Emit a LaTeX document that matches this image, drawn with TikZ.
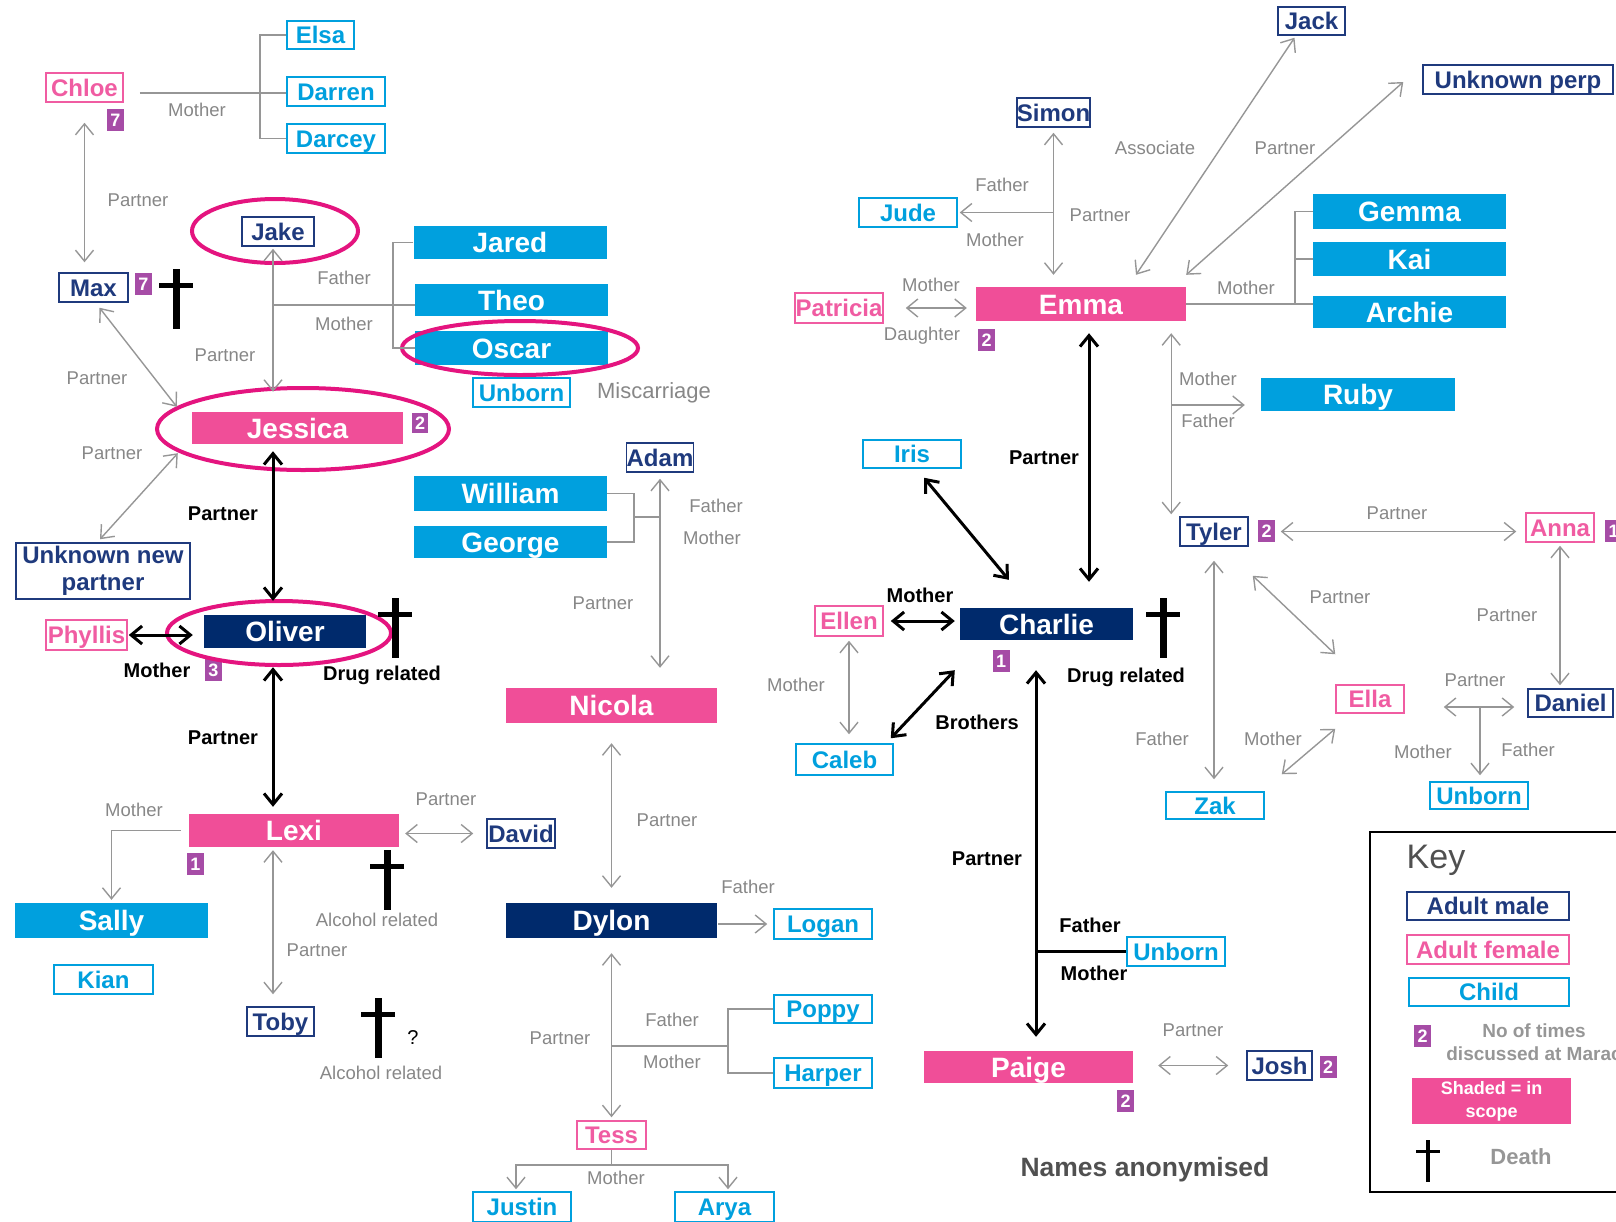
\documentclass[tikz,border=0pt]{standalone}
\usepackage{fontspec}
\setmainfont{Liberation Sans}
\usepackage{xcolor}
\definecolor{famNavy}{RGB}{0,42,108}
\definecolor{famMale}{RGB}{31,58,125}
\definecolor{famPink}{RGB}{240,78,152}
\definecolor{famPinkText}{RGB}{240,92,162}
\definecolor{famCyan}{RGB}{0,160,222}
\definecolor{famBadge}{RGB}{166,76,166}
\definecolor{famRing}{RGB}{228,20,127}
\definecolor{famGray}{RGB}{150,150,150}
\definecolor{famLabel}{RGB}{135,135,135}
\definecolor{famDark}{RGB}{80,80,80}
\usepackage{tikz}
\usetikzlibrary{arrows.meta, positioning, calc}

\newcommand{\nameFont}{\fontsize{24pt}{27pt}\selectfont\bfseries}
\newcommand{\bigNameFont}{\fontsize{28pt}{30pt}\selectfont\bfseries}
\newcommand{\badgeFont}{\fontsize{18pt}{20pt}\selectfont\bfseries}
\newcommand{\labelFont}{\fontsize{18.5pt}{20pt}\selectfont}
\newcommand{\bondFont}{\fontsize{20pt}{22pt}\selectfont\bfseries}

\begin{document}
\begin{tikzpicture}[
    x=1pt, y=-1pt,
    box/.style={
        rectangle, inner sep=0pt, line width=1.5pt,
        minimum height=29pt, font=\nameFont, align=center
    },
    maleFrame/.style={box, draw=famMale, text=famMale, fill=white},
    maleBox/.style={maleFrame, text height=17pt, text depth=0pt},
    femaleBox/.style={
        box, draw=famPinkText, text=famPinkText, fill=white,
        text height=17pt, text depth=0pt
    },
    childBox/.style={
        box, draw=famCyan, text=famCyan, fill=white,
        text height=17pt, text depth=0pt
    },
    scopeBox/.style={
        rectangle, inner sep=0pt, minimum width=193pt, minimum height=34pt,
        font=\bigNameFont, text=white, text height=20pt, text depth=0pt
    },
    scopeKid/.style={scopeBox, fill=famCyan},
    scopeFemale/.style={scopeBox, fill=famPink},
    scopeMale/.style={scopeBox, fill=famNavy},
    badge/.style={
        rectangle, inner sep=0pt, fill=famBadge, text=white,
        minimum width=17pt, minimum height=22pt, font=\badgeFont,
        text height=13pt, text depth=0pt
    },
    relLabel/.style={
        font=\labelFont, text=famLabel, inner sep=0pt,
        text height=13pt, text depth=0pt
    },
    bondLabel/.style={
        font=\bondFont, text=black, inner sep=0pt,
        text height=14pt, text depth=0pt
    },
    kinLine/.style={draw=famGray, line width=1.4pt},
    kinArrow/.style={
        {Straight Barb[length=11pt,width=18pt]}-{Straight Barb[length=11pt,width=18pt]},
        draw=famGray, line width=1.4pt
    },
    kinArrowOne/.style={
        -{Straight Barb[length=11pt,width=18pt]}, draw=famGray, line width=1.4pt
    },
    bondArrow/.style={
        {Straight Barb[length=11pt,width=18pt]}-{Straight Barb[length=11pt,width=18pt]},
        draw=black, line width=3pt
    },
    bondLine/.style={draw=black, line width=3pt},
    ring/.style={draw=famRing, line width=4pt},
    deathCross/.pic={
        \fill (-3.5,0) rectangle (3.5,60);
        \fill (-17,14) rectangle (17,19);
    }
]
    \useasboundingbox (0,0) rectangle (1616,1221);
    \clip (0,0) rectangle (1616,1221);

    % Left family
    \node[femaleBox, minimum width=77pt] (chloe) at (84.5,87.5) {Chloe};
    \node[badge] (chloeNo) at (115.5,119.5) {7};
    \node[childBox, minimum width=67pt, minimum height=28pt] (elsa) at (320.5,35) {Elsa};
    \node[childBox, minimum width=98pt] (darren) at (336,91.5) {Darren};
    \node[childBox, minimum width=98pt] (darcey) at (336,138.5) {Darcey};
    \node[maleBox, minimum width=69pt] (max) at (93.5,287.5) {Max};
    \node[badge] (maxNo) at (143.5,284) {7};
    \node[maleBox, minimum width=72pt] (jake) at (278,231.5) {Jake};
    \node[scopeKid, minimum height=33pt] (jared) at (510,242.5) {Jared};
    \node[scopeKid, minimum height=32pt] (theo) at (511.5,300) {Theo};
    \node[scopeKid] (oscar) at (511.5,348) {Oscar};
    \node[childBox, minimum width=97pt] (unbornOscar) at (521.5,392.5) {Unborn};
    \node[font=\fontsize{22pt}{24pt}\selectfont, text=famLabel] (miscarriage) at (654,393) {Miscarriage};
    \node[scopeFemale, minimum width=211pt, minimum height=32pt] (jessica) at (297.5,428) {Jessica};
    \node[badge, minimum width=16pt, minimum height=20pt] (jessicaNo) at (420,423) {2};
    \node[maleFrame, minimum width=174pt, minimum height=56pt] (unknownNew) at (103,571) {Unknown new\\partner};
    \node[femaleBox, minimum width=81pt, minimum height=30pt] (phyllis) at (86.5,635) {Phyllis};
    \node[scopeMale, minimum width=162pt, minimum height=33pt] (oliver) at (285,631.5) {Oliver};
    \node[badge] (oliverNo) at (213.5,669.5) {3};
    \node[scopeFemale, minimum width=210pt, minimum height=33pt] (lexi) at (294,830.5) {Lexi};
    \node[badge] (lexiNo) at (195.5,864) {1};
    \node[scopeKid, minimum height=35pt] (sally) at (111.5,920.5) {Sally};
    \node[childBox, minimum width=99pt] (kian) at (103.5,979.5) {Kian};
    \node[maleBox, minimum width=67pt] (toby) at (280.5,1021.5) {Toby};
    \node[maleBox, minimum width=68pt] (david) at (521,833.5) {David};

    % Middle family
    \node[maleBox, minimum width=66pt] (adam) at (660,457.5) {Adam};
    \node[scopeKid, minimum height=35pt] (william) at (510.5,493.5) {William};
    \node[scopeKid, minimum height=32pt] (george) at (510.5,542) {George};
    \node[scopeFemale, minimum width=211pt, minimum height=35pt] (nicola) at (611.5,705.5) {Nicola};
    \node[scopeMale, minimum width=211pt, minimum height=35pt] (dylon) at (611.5,920.5) {Dylon};
    \node[childBox, minimum width=98pt, minimum height=30pt] (logan) at (823,924) {Logan};
    \node[childBox, minimum width=98pt, minimum height=28pt] (poppy) at (823,1009) {Poppy};
    \node[childBox, minimum width=98pt, minimum height=30pt] (harper) at (823,1073) {Harper};
    \node[femaleBox, minimum width=69pt, minimum height=28pt] (tess) at (611.5,1135) {Tess};
    \node[childBox, minimum width=98pt, minimum height=30pt] (justin) at (522,1207) {Justin};
    \node[childBox, minimum width=99pt, minimum height=30pt] (arya) at (724.5,1207) {Arya};

    % Right family
    \node[maleBox, minimum width=67pt, minimum height=28pt] (jack) at (1311.5,21) {Jack};
    \node[maleBox, minimum width=190pt] (unknownPerp) at (1518,79.5) {Unknown perp};
    \node[maleBox, minimum width=73pt] (simon) at (1053.5,112.5) {Simon};
    \node[childBox, minimum width=98pt] (jude) at (908,212.5) {Jude};
    \node[femaleBox, minimum width=88pt, minimum height=30pt] (patricia) at (839,308) {Patricia};
    \node[scopeFemale, minimum width=210pt] (emma) at (1081,304) {Emma};
    \node[badge] (emmaNo) at (986.5,340) {2};
    \node[scopeKid, minimum height=35pt] (gemma) at (1409.5,211.5) {Gemma};
    \node[scopeKid] (kai) at (1409.5,259) {Kai};
    \node[scopeKid, minimum height=32pt] (archie) at (1409.5,312) {Archie};
    \node[scopeKid, minimum width=194pt, minimum height=33pt] (ruby) at (1358,394.5) {Ruby};
    \node[childBox, minimum width=98pt, minimum height=28pt] (iris) at (912,454) {Iris};
    \node[femaleBox, minimum width=68pt, minimum height=30pt] (ellen) at (849,621) {Ellen};
    \node[scopeMale, minimum width=173pt, minimum height=32pt] (charlie) at (1046.5,624) {Charlie};
    \node[badge] (charlieNo) at (1001,661) {1};
    \node[childBox, minimum width=97pt, minimum height=31pt] (caleb) at (844.5,759.5) {Caleb};
    \node[childBox, minimum width=98pt] (unbornCharlie) at (1176,951.5) {Unborn};
    \node[scopeFemale, minimum width=209pt, minimum height=32pt] (paige) at (1028.5,1067) {Paige};
    \node[badge] (paigeNo) at (1125.5,1100.5) {2};
    \node[maleBox, minimum width=65pt] (josh) at (1279.5,1065.5) {Josh};
    \node[badge] (joshNo) at (1328,1066.5) {2};
    \node[maleBox, minimum width=68pt] (tyler) at (1214,531.5) {Tyler};
    \node[badge] (tylerNo) at (1266.5,531) {2};
    \node[femaleBox, minimum width=68pt] (anna) at (1560,527.5) {Anna};
    \node[badge] (annaNo) at (1613.5,531) {1};
    \node[femaleBox, minimum width=68pt, minimum height=28pt] (ella) at (1370,699) {Ella};
    \node[maleBox, minimum width=85pt, minimum height=28pt] (daniel) at (1570.5,703) {Daniel};
    \node[childBox, minimum width=98pt, minimum height=27pt] (zak) at (1215,805.5) {Zak};
    \node[childBox, minimum width=98pt, minimum height=27pt] (unbornDaniel) at (1479,795.5) {Unborn};

    % In-scope rings
    \draw[ring] (275,231) ellipse [x radius=83pt, y radius=32pt];
    \draw[ring] (520,348) ellipse [x radius=118pt, y radius=27pt];
    \draw[ring] (303,429) ellipse [x radius=146pt, y radius=41pt];
    \draw[ring] (279,633) ellipse [x radius=112pt, y radius=32pt];

    % Deaths
    \pic at (176,269) {deathCross};
    \pic at (395,598) {deathCross};
    \pic at (387,850) {deathCross};
    \pic at (378,998) {deathCross};
    \pic at (1163,598) {deathCross};

    % Helper coordinates
    \coordinate (spineL) at (273,0);
    \coordinate (chloeFork) at (260,93);
    \coordinate (jakeKids) at (393,305);
    \coordinate (twinsFork) at (634,517);
    \coordinate (dylonKids) at (728,1046);
    \coordinate (tessFork) at (611.5,1165);
    \coordinate (emmaKids) at (1295,304);
    \coordinate (emmaAxis) at ([xshift=8pt]emma.south);
    \coordinate (tylerAxis) at ([xshift=-15pt]emma.south east);
    \coordinate (rubyFork) at (1171,405);
    \coordinate (charlieAxis) at ([xshift=-10.5pt]charlie.south);
    \coordinate (ellaDaniel) at (1480,707);

    % Connections, left
    \draw[kinLine, shorten <=16pt] (chloeFork -| chloe.east) -- (chloeFork -| darren.west);
    \draw[kinLine] (elsa.west) -| (chloeFork) |- (darcey.west);
    \draw[kinArrow, shorten <=20pt, shorten >=10pt] (chloe.south) -- (chloe.south |- max.north);
    \draw[kinArrow] ([xshift=6pt,yshift=-5pt]max.south) -- ([xshift=-15pt,yshift=5pt]jessica.north west);
    \draw[kinArrow] ([xshift=-3pt,yshift=3pt]unknownNew.north) -- ([xshift=-14pt,yshift=-9pt]jessica.south west);
    \draw[kinArrow, shorten <=2pt, shorten >=20pt] (spineL |- jake.south) -- (spineL |- jessica.north);
    \draw[kinLine] (spineL |- jakeKids) -- (jakeKids -| theo.west);
    \draw[kinLine] (jared.west) -| (jakeKids) |- (oscar.west);
    \draw[bondArrow, shorten <=7pt, shorten >=14pt] (spineL |- jessica.south) -- (spineL |- oliver.north);
    \draw[bondArrow, shorten <=1pt, shorten >=11pt] (phyllis.east) -- (phyllis.east -| oliver.west);
    \draw[bondArrow, shorten <=19pt, shorten >=7pt] (spineL |- oliver.south) -- (spineL |- lexi.north);
    \draw[kinArrowOne, shorten <=8pt, shorten >=3pt] (lexi.west) -| (sally.north);
    \draw[kinArrow, shorten <=3pt, shorten >=12pt] (spineL |- lexi.south) -- (spineL |- toby.north);
    \draw[kinArrow, shorten <=6pt, shorten >=13pt] (lexi.east |- david.west) -- (david.west);

    % Connections, middle
    \draw[kinArrow, shorten <=6pt, shorten >=20pt] (adam.south) -- (adam.south |- nicola.north);
    \draw[kinLine] (william.east) -| (twinsFork) |- (george.east);
    \draw[kinLine] (twinsFork) -- (twinsFork -| adam.south);
    \draw[kinArrow, shorten <=20pt, shorten >=15pt] (nicola.south) -- (dylon.north);
    \draw[kinArrowOne, shorten <=1pt, shorten >=6pt] (dylon.east |- logan.west) -- (logan.west);
    \draw[kinArrow, shorten <=15pt, shorten >=3pt] (dylon.south) -- (tess.north);
    \draw[kinLine] (dylon.south |- dylonKids) -- (dylonKids);
    \draw[kinLine] (poppy.west) -| (dylonKids) |- (harper.west);
    \draw[kinLine] (tess.south) -- (tessFork);
    \draw[kinArrowOne, shorten >=2pt] (tessFork) -| ([xshift=-6pt]justin.north);
    \draw[kinArrowOne, shorten >=2pt] (tessFork) -| ([xshift=3.5pt]arya.north);

    % Connections, right
    \draw[kinArrow, shorten <=5pt, shorten >=12pt] (simon.south) -- (simon.south |- emma.north);
    \draw[kinArrowOne, shorten >=2pt] (simon.south |- jude.east) -- (jude.east);
    \draw[kinArrow] ([xshift=-17pt,yshift=-2pt]jack.south) -- ([xshift=55pt,yshift=12pt]emma.north);
    \draw[kinArrow] ([xshift=-19pt,yshift=-2.5pt]unknownPerp.west) -- ([yshift=12pt]emma.north east);
    \draw[kinArrow, shorten <=22pt, shorten >=9pt] (patricia.east) -- (patricia.east -| emma.west);
    \draw[kinLine] (emma.east) -- (emma.east -| archie.west);
    \draw[kinLine] (gemma.west) -| (emmaKids);
    \draw[kinLine] (kai.west) -- (kai.west -| emmaKids);
    \draw[bondArrow, shorten <=12pt, shorten >=26pt] (emmaAxis) -- (emmaAxis |- charlie.north);
    \draw[kinArrow, shorten <=12pt, shorten >=2pt] (tylerAxis) -- (tylerAxis |- tyler.north);
    \draw[kinArrowOne, shorten >=16pt] (rubyFork) -- (rubyFork -| ruby.west);
    \draw[bondArrow] ([xshift=12pt,yshift=-9pt]iris.south) -- ([xshift=49pt,yshift=28pt]charlie.north west);
    \draw[bondArrow, shorten <=7pt, shorten >=5pt] (ellen.east) -- (ellen.east -| charlie.west);
    \draw[kinArrow, shorten <=4pt, shorten >=9pt] (ellen.south) -- (ellen.south |- caleb.north);
    \draw[bondArrow] ([xshift=-3pt,yshift=5pt]caleb.north east) -- ([xshift=-5pt,yshift=-30pt]charlie.south west);
    \draw[bondArrow, shorten <=30pt, shorten >=14pt] (charlieAxis) -- (charlieAxis |- paige.north);
    \draw[bondLine] (charlieAxis |- unbornCharlie.west) -- (unbornCharlie.west);
    \draw[kinArrow, shorten <=25pt, shorten >=18pt] (paige.east |- josh.west) -- (josh.west);
    \draw[kinArrow, shorten <=32pt, shorten >=9pt] (tyler.east) -- (tyler.east -| anna.west);
    \draw[kinArrow, shorten <=3pt, shorten >=3pt] (anna.south) -- (anna.south |- daniel.north);
    \draw[kinArrow] ([xshift=4pt,yshift=-29pt]tyler.south east) -- ([yshift=30pt]ella.north west);
    \draw[kinArrow, shorten <=14pt, shorten >=12pt] (tyler.south) -- (tyler.south |- zak.north);
    \draw[kinArrow] ([yshift=-15pt]ella.south west) -- ([xshift=17pt,yshift=17pt]zak.north east);
    \draw[kinArrow, shorten <=39pt, shorten >=13pt] (ella.east |- ellaDaniel) -- (daniel.west |- ellaDaniel);
    \draw[kinArrowOne, shorten >=6pt] (ellaDaniel) -- (ellaDaniel |- unbornDaniel.north);

    % Labels, left
    \node[relLabel] (lChloeKids) at (197,110) {Mother};
    \node[relLabel] (lChloeMax) at (138,200) {Partner};
    \node[relLabel] (lMaxJess) at (97,378) {Partner};
    \node[relLabel] (lNewJess) at (112,453) {Partner};
    \node[relLabel] (lJakeFather) at (344,278) {Father};
    \node[relLabel] (lJakeMother) at (344,324) {Mother};
    \node[relLabel] (lJakeJess) at (225,355) {Partner};
    \node[bondLabel] (lJessOliver) at (223,513) {Partner};
    \node[bondLabel] (lPhyllis) at (157,670) {Mother};
    \node[bondLabel] (lOliverDeath) at (382,673) {Drug related};
    \node[bondLabel] (lOliverLexi) at (223,737) {Partner};
    \node[relLabel] (lLexiSally) at (134,810) {Mother};
    \node[relLabel] (lLexiDavid) at (446,799) {Partner};
    \node[relLabel] (lLexiToby) at (317,950) {Partner};
    \node[relLabel] (lLexiDeath) at (377,920) {Alcohol related};
    \node[font=\fontsize{20pt}{22pt}\selectfont] (lTobyQuery) at (413,1037) {?};
    \node[relLabel] (lTobyDeath) at (381,1073) {Alcohol related};

    % Labels, middle
    \node[relLabel] (lAdamFather) at (716,506) {Father};
    \node[relLabel] (lAdamMother) at (712,538) {Mother};
    \node[relLabel] (lAdamNicola) at (603,603) {Partner};
    \node[relLabel] (lNicolaDylon) at (667,820) {Partner};
    \node[relLabel] (lDylonLogan) at (748,887) {Father};
    \node[relLabel] (lDylonTess) at (560,1038) {Partner};
    \node[relLabel] (lKidsFather) at (672,1020) {Father};
    \node[relLabel] (lKidsMother) at (672,1062) {Mother};
    \node[relLabel] (lTessKids) at (616,1178) {Mother};

    % Labels, right
    \node[relLabel] (lSimonFather) at (1002,185) {Father};
    \node[relLabel] (lSimonMother) at (995,240) {Mother};
    \node[relLabel] (lSimonEmma) at (1100,215) {Partner};
    \node[relLabel] (lJack) at (1155,148) {Associate};
    \node[relLabel] (lPerp) at (1285,148) {Partner};
    \node[relLabel] (lPatMother) at (931,285) {Mother};
    \node[relLabel] (lPatDaughter) at (922,334) {Daughter};
    \node[relLabel] (lEmmaKids) at (1246,288) {Mother};
    \node[bondLabel] (lEmmaCharlie) at (1044,457) {Partner};
    \node[relLabel] (lRubyMother) at (1208,379) {Mother};
    \node[relLabel] (lRubyFather) at (1208,421) {Father};
    \node[bondLabel] (lEllenCharlie) at (920,595) {Mother};
    \node[bondLabel] (lCharlieDeath) at (1126,675) {Drug related};
    \node[bondLabel] (lBrothers) at (977,722) {Brothers};
    \node[relLabel] (lEllenCaleb) at (796,685) {Mother};
    \node[bondLabel] (lCharliePaige) at (987,858) {Partner};
    \node[bondLabel] (lUnbornFather) at (1090,925) {Father};
    \node[bondLabel] (lUnbornMother) at (1094,973) {Mother};
    \node[relLabel] (lPaigeJosh) at (1193,1030) {Partner};
    \node[relLabel] (lTylerAnna) at (1397,513) {Partner};
    \node[relLabel] (lAnnaDaniel) at (1507,615) {Partner};
    \node[relLabel] (lTylerElla) at (1340,597) {Partner};
    \node[relLabel] (lTylerZak) at (1162,739) {Father};
    \node[relLabel] (lEllaZak) at (1273,739) {Mother};
    \node[relLabel] (lEllaDaniel) at (1475,680) {Partner};
    \node[relLabel] (lUnbornMother2) at (1423,752) {Mother};
    \node[relLabel] (lUnbornFather2) at (1528,750) {Father};

    \node[font=\fontsize{26.5pt}{28pt}\selectfont\bfseries, text=famDark] (anonNote) at (1145,1170) {Names anonymised};

    % Key
    \draw[line width=1.8pt] (1370,832) rectangle (1630,1192);
    \node[font=\fontsize{34pt}{36pt}\selectfont, text=famDark] (keyTitle) at (1436,860) {Key};
    \node[maleBox, minimum width=162pt, minimum height=28pt] (keyMale) at (1488,906) {Adult male};
    \node[femaleBox, minimum width=162pt] (keyFemale) at (1488,949.5) {Adult female};
    \node[childBox, minimum width=160pt, minimum height=28pt] (keyChild) at (1489,992) {Child};
    \node[badge] (keyNo) at (1422.5,1036) {2};
    \node[font=\fontsize{19pt}{23pt}\selectfont\bfseries, text=famGray, align=center] (keyTimes) at (1534,1042) {No of times\\discussed at Marac};
    \node[rectangle, inner sep=0pt, fill=famPink, text=white, align=center,
          minimum width=159pt, minimum height=46pt,
          font=\fontsize{18pt}{23pt}\selectfont\bfseries] (keyScope) at (1491.5,1101) {Shaded = in\\scope};
    \pic[scale=0.7] at (1428,1140) {deathCross};
    \node[font=\fontsize{22pt}{24pt}\selectfont\bfseries, text=famGray] (keyDeath) at (1521,1157) {Death};

\end{tikzpicture}
\end{document}
